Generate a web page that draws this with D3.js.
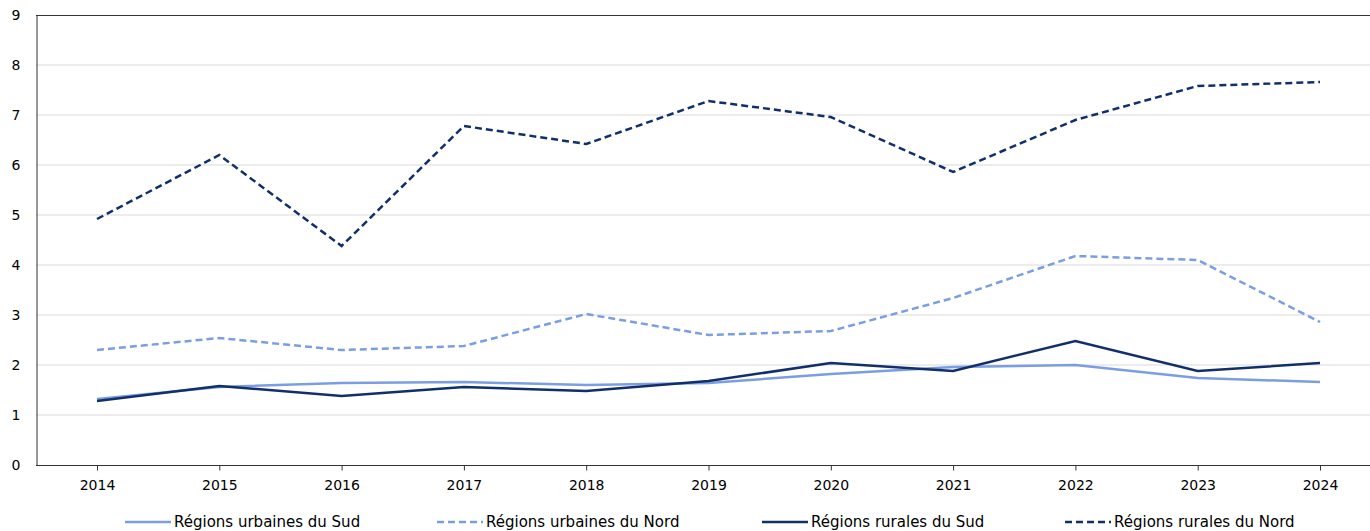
<!DOCTYPE html>
<html>
<head>
<meta charset="utf-8">
<script src="https://cdn.jsdelivr.net/npm/d3@7"></script>
<style>
  body { margin: 0; background: #fff; }
  text { font-family: "DejaVu Sans", Verdana, sans-serif; fill: #000; }
</style>
</head>
<body>
<div class="container"></div>
<script>
const years = ['2014', '2015', '2016', '2017', '2018', '2019', '2020', '2021', '2022', '2023', '2024'];
const yTicks = [0, 1, 2, 3, 4, 5, 6, 7, 8, 9];

const seriesNames = ['Régions urbaines du Sud', 'Régions urbaines du Nord', 'Régions rurales du Sud', 'Régions rurales du Nord'];
const urbainSud = [1.32, 1.56, 1.64, 1.66, 1.6, 1.64, 1.82, 1.96, 2.0, 1.74, 1.66];
const urbainNord = [2.3, 2.54, 2.3, 2.38, 3.02, 2.6, 2.68, 3.34, 4.18, 4.1, 2.86];
const ruralSud = [1.28, 1.58, 1.38, 1.56, 1.48, 1.68, 2.04, 1.88, 2.48, 1.88, 2.04];
const ruralNord = [4.92, 6.2, 4.38, 6.78, 6.42, 7.28, 6.96, 5.86, 6.9, 7.58, 7.66];

const renderChart = () => {
  const width = 1370;
  const height = 531;
  const left = 36;
  const top = 15;
  const bottom = 465;

  const styles = [
    { color: '#7b9ee3', dash: null },
    { color: '#7b9ee3', dash: '7,4' },
    { color: '#112f6b', dash: null },
    { color: '#112f6b', dash: '7,4' }
  ];
  const allValues = [urbainSud, urbainNord, ruralSud, ruralNord];

  const svg = d3.select('.container').append('svg').attr('width', width).attr('height', height);

  //scales
  const xScale = d3.scalePoint().domain(years).range([97, 1320]);
  const yScale = d3.scaleLinear().domain([0, 9]).range([bottom, top]);

  //grid
  svg
    .append('g')
    .attr('class', 'grid')
    .selectAll('line')
    .data(yTicks.filter(d => d > 0 && d < 9))
    .join('line')
    .attr('x1', left)
    .attr('x2', width)
    .attr('y1', d => yScale(d))
    .attr('y2', d => yScale(d))
    .attr('stroke', '#d9d9d9')
    .attr('stroke-width', 1);

  //top border
  svg
    .append('line')
    .attr('x1', left)
    .attr('x2', width)
    .attr('y1', top + 0.5)
    .attr('y2', top + 0.5)
    .attr('stroke', '#333')
    .attr('stroke-width', 1);

  //left axis
  const leftAxis = d3.axisLeft(yScale).tickValues(yTicks).tickSize(0).tickPadding(16);
  const leftAxisGroup = svg.append('g').attr('transform', `translate(${left + 0.5},0)`).call(leftAxis);
  leftAxisGroup.select('.domain').attr('stroke', '#333');
  leftAxisGroup.selectAll('text').attr('font-size', 14);

  //bottom axis
  const bottomAxis = d3.axisBottom(xScale).tickSize(5).tickPadding(10).tickSizeOuter(0);
  const bottomAxisGroup = svg.append('g').attr('transform', `translate(0,${bottom + 0.5})`).call(bottomAxis);
  bottomAxisGroup.select('.domain').attr('d', `M${left},0H${width}`).attr('stroke', '#333');
  bottomAxisGroup.selectAll('.tick line').attr('stroke', '#333');
  bottomAxisGroup.selectAll('text').attr('font-size', 14);

  //lines
  const line = d3
    .line()
    .x((d, i) => xScale(years[i]))
    .y(d => yScale(d));

  const linesGroup = svg.append('g').attr('class', 'lines');
  allValues.forEach((values, i) => {
    linesGroup
      .append('path')
      .attr('d', line(values))
      .attr('fill', 'none')
      .attr('stroke', styles[i].color)
      .attr('stroke-width', 2.5)
      .attr('stroke-dasharray', styles[i].dash);
  });

  //legend
  const legendX = [125, 437, 762, 1065];
  const legendY = 522;
  const legend = svg.append('g').attr('class', 'legend');
  seriesNames.forEach((name, i) => {
    legend
      .append('line')
      .attr('x1', legendX[i])
      .attr('x2', legendX[i] + 46)
      .attr('y1', legendY)
      .attr('y2', legendY)
      .attr('stroke', styles[i].color)
      .attr('stroke-width', 2.5)
      .attr('stroke-dasharray', styles[i].dash);
    legend
      .append('text')
      .text(name)
      .attr('x', legendX[i] + 49)
      .attr('y', legendY)
      .attr('dy', '0.35em')
      .attr('font-size', 15);
  });
};

renderChart();
</script>
</body>
</html>
